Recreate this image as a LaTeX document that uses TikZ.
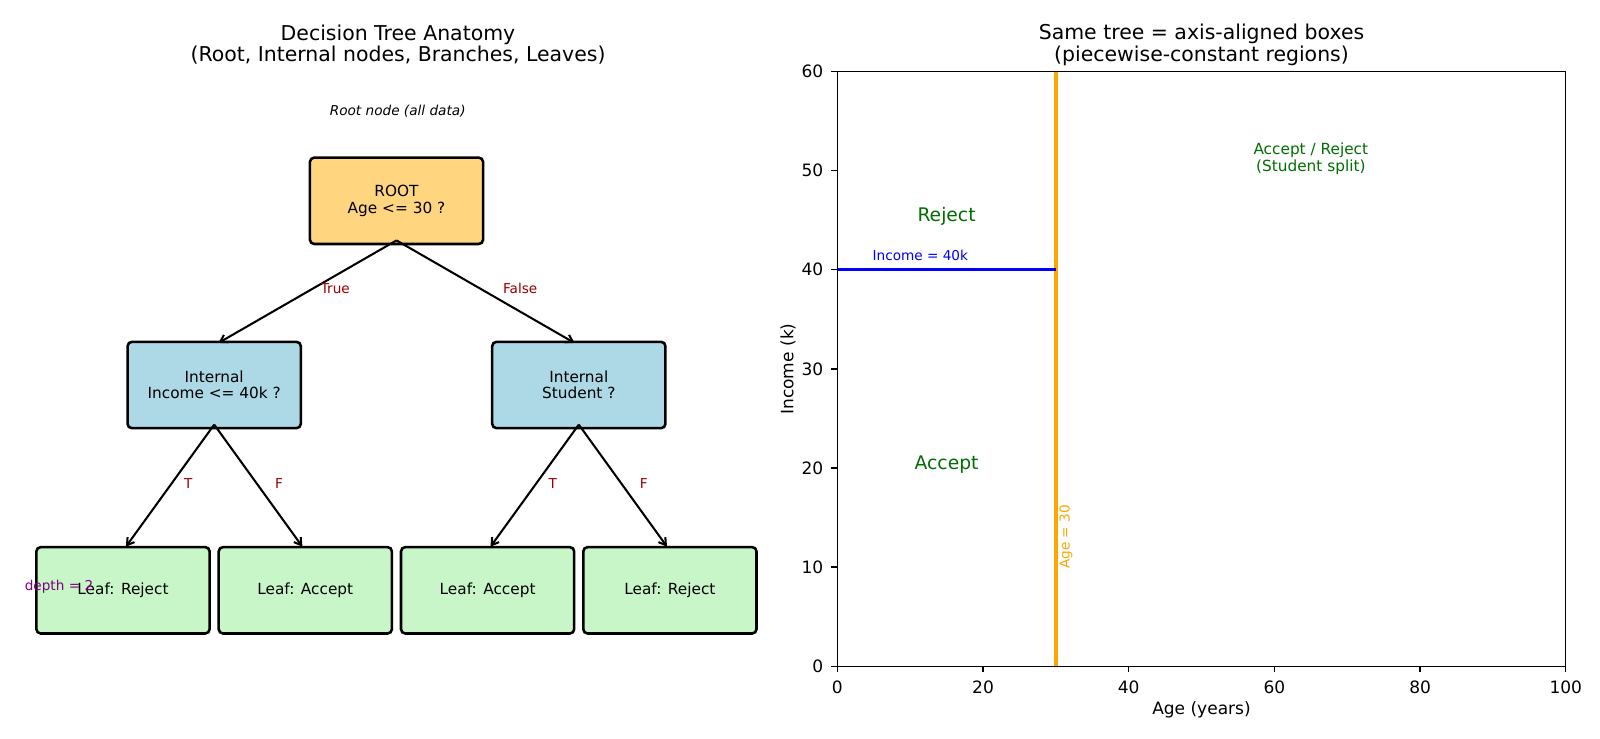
\documentclass[tikz,border=0pt]{standalone}
\usepackage{fontspec}
\setmainfont{DejaVu Sans}[ItalicFont={DejaVu Sans Oblique}]
\usetikzlibrary{arrows.meta}

\definecolor{rootorange}{RGB}{255,213,128}
\definecolor{internalblue}{RGB}{173,216,230}
\definecolor{leafgreen}{RGB}{200,246,200}
\definecolor{branchred}{RGB}{150,0,0}
\definecolor{regiongreen}{RGB}{0,110,0}
\definecolor{splitorange}{RGB}{255,165,0}
\definecolor{depthpurple}{RGB}{128,0,128}

\begin{document}
\begin{tikzpicture}
                [x=0.5872pt, y=-0.5872pt,
                block/.style={
                    rectangle,
                    draw,
                    line width=1.5pt,
                    rounded corners=2.5pt,
                    align=center,
                    inner sep=0pt,
                    outer sep=-2.1pt,
                    minimum width=101.7pt,
                    minimum height=50.7pt,
                    font=\fontsize{9}{9.6}\selectfont
                },
                root/.style={block, fill=rootorange},
                internal/.style={block, fill=internalblue},
                leaf/.style={block, fill=leafgreen},
                line/.style={
                    draw, line width=1.2pt, -{Straight Barb[length=4pt, width=5pt]}, shorten >=2.9pt
                },
                branchlabel/.style={
                    anchor=west, inner sep=0pt, xshift=8.5pt, yshift=2.5pt,
                    text=branchred, font=\fontsize{8}{9}\selectfont
                },
                title/.style={align=center, inner sep=0pt, font=\fontsize{12}{12.7}\selectfont},
                note/.style={inner sep=0pt, font=\fontsize{8}{9}\selectfont\itshape},
                spine/.style={draw, line width=0.8pt},
                ticklabel/.style={inner sep=0pt, font=\fontsize{10}{11}\selectfont},
                xticklabel/.style={ticklabel, anchor=north, yshift=-4.8pt},
                yticklabel/.style={ticklabel, anchor=east, xshift=-4.4pt},
                axislabel/.style={inner sep=0pt, font=\fontsize{10}{11}\selectfont},
                region/.style={inner sep=0pt, text=regiongreen, font=\fontsize{11}{12}\selectfont},
                splitline/.style={draw=splitorange, line width=2pt},
                incomeline/.style={draw=blue, line width=2pt}
                ]

                % Canvas
                \path[fill=white] (0,0) rectangle (1600,738);
                \useasboundingbox (0,0) rectangle (1600,738);

                % Titles
                \node[title] (treetitle) at (398,44.6) {Decision Tree Anatomy\\(Root, Internal nodes, Branches, Leaves)};
                \node[title] (boxtitle) at (1201.5,44.6) {Same tree = axis-aligned boxes\\(piecewise-constant regions)};

                % Tree nodes
                \node[note] (rootnote) at (397.7,111.5) {Root node (all data)};
                \node[root] (root) at (396.5,200.8) {ROOT\\Age <= 30 ?};
                \node[internal] (intL) at (214.2,385) {Internal\\Income <= 40k ?};
                \node[internal] (intR) at (578.8,385) {Internal\\Student ?};
                \foreach \name/\xpos/\txt in {leafA/123/Reject, leafB/305.3/Accept, leafC/487.6/Accept, leafD/669.9/Reject}{
                    \node[leaf] (\name) at (\xpos,590.3) {Leaf: \txt};
                }
                \node[inner sep=0pt, text=depthpurple, font=\fontsize{8}{9}\selectfont] (depth) at (59,586.5) {depth = 2};

                % Branches
                \path [line] (root.south) -- node[branchlabel] {True} (intL.north);
                \path [line] (root.south) -- node[branchlabel] {False} (intR.north);
                \foreach \parent/\kid/\lab in {intL/leafA/T, intL/leafB/F, intR/leafC/T, intR/leafD/F}{
                    \path [line] (\parent.south) -- node[branchlabel] {\lab} (\kid.north);
                }

                % Feature space
                \begin{scope}[shift={(837.3,666.3)}, x=4.2778pt, y=5.821pt]
                    \draw[splitline] (30,0) -- (30,60);
                    \draw[incomeline] (0,40) -- (30,40);
                    \draw[spine] (0,0) rectangle (100,60);
                    \foreach \t in {0,20,...,100}
                        \draw[spine] (\t,0) -- ++(0,-3.5pt) node[xticklabel] {\t};
                    \foreach \t in {0,10,...,60}
                        \draw[spine] (0,\t) -- ++(-3.5pt,0) node[yticklabel] {\t};

                    \node[inner sep=0pt, anchor=base west, text=blue, font=\fontsize{8}{9}\selectfont] (incomecut) at (4.8,40.95) {Income = 40k};
                    \node[inner sep=0pt, anchor=north west, rotate=90, text=splitorange, font=\fontsize{8}{9}\selectfont] (agecut) at (30.45,9.8) {Age = 30};
                    \node[region] (reject) at (15,45.35) {Reject};
                    \node[region] (accept) at (15,20.3) {Accept};
                    \node[region, align=center, font=\fontsize{9}{9.6}\selectfont] (student) at (65,51.2) {Accept / Reject\\(Student split)};
                \end{scope}

                % Axis labels
                \node[axislabel] (xlabel) at (1201.5,710) {Age (years)};
                \node[axislabel, rotate=90] (ylabel) at (788,369) {Income (k)};
\end{tikzpicture}
\end{document}
